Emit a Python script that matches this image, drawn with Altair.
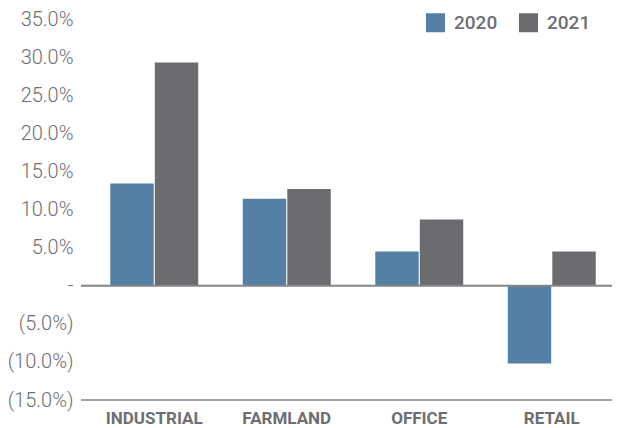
import altair as alt
import pandas as pd

categories = ["INDUSTRIAL", "FARMLAND", "OFFICE", "RETAIL"]
years = ["2020", "2021"]
values_2020 = [13.4, 11.4, 4.5, -10.2]
values_2021 = [29.3, 12.7, 8.7, 4.5]
y_ticks = [-15, -10, -5, 0, 5, 10, 15, 20, 25, 30, 35]
colors = ["#5580a5", "#6b6c70"]

rows = []
for c, a, b in zip(categories, values_2020, values_2021):
    rows.append({"category": c, "year": years[0], "value": a})
    rows.append({"category": c, "year": years[1], "value": b})
df = pd.DataFrame(rows)

W, H = 531, 381
TEXT = "#6d6e71"
LINE = "#858585"

label_expr = ("datum.value == 0 ? '-' : (datum.value < 0 ? '(' + format(-datum.value, '.1f') + '%)' "
              ": format(datum.value, '.1f') + '%')")

y_axis = alt.Axis(title=None, values=y_ticks, labelExpr=label_expr, domain=False,
                  ticks=False, grid=False, labelFont="Roboto", labelFontWeight=300,
                  labelFontSize=20, labelColor=TEXT, labelPadding=8,
                  labelOverlap=False, labelBound=False, labelFlush=False)
y_scale = alt.Scale(domain=[-15, 35], nice=False, zero=False)

bars = alt.Chart(df).mark_bar().encode(
    x=alt.X("category:N", sort=categories,
            scale=alt.Scale(range=[7, 537], paddingInner=0, paddingOuter=0),
            axis=alt.Axis(title=None, domain=False, ticks=False, labelAngle=0,
                          labelFont="Roboto", labelFontWeight="bold", labelFontSize=17,
                          labelColor=TEXT, labelPadding=10)),
    xOffset=alt.XOffset("year:N", sort=years,
                        scale=alt.Scale(paddingInner=0.025, paddingOuter=0.5)),
    y=alt.Y("value:Q", scale=y_scale, axis=y_axis),
    color=alt.Color("year:N", sort=years, scale=alt.Scale(domain=years, range=colors),
                    legend=alt.Legend(title=None, orient="none", legendX=345, legendY=-6,
                                      direction="horizontal", symbolType="square",
                                      symbolSize=361, symbolStrokeWidth=0, symbolOpacity=1,
                                      labelFont="Roboto", labelFontWeight=500,
                                      labelFontSize=19, labelColor=TEXT,
                                      columnPadding=21, labelOffset=9)),
)

zero_rule = alt.Chart(pd.DataFrame({"value": [0]})).mark_rule(color=LINE, strokeWidth=2).encode(
    y=alt.Y("value:Q", scale=y_scale, axis=y_axis), x=alt.value(0), x2=alt.value(W + 10))
bottom_rule = alt.Chart(pd.DataFrame({"value": [-15]})).mark_rule(color=LINE, strokeWidth=1.5).encode(
    y=alt.Y("value:Q", scale=y_scale, axis=y_axis), x=alt.value(0), x2=alt.value(W + 10))

chart = alt.layer(bars, zero_rule, bottom_rule).properties(
    width=W, height=H,
    autosize=alt.AutoSizeParams(type="none"),
    padding={"left": 73, "top": 11, "right": 0, "bottom": 26},
    background="white",
).configure_view(stroke=None).configure_axisY(labelOverlap=False)

chart.save("out.html", embed_options={"renderer": "svg", "actions": False})
